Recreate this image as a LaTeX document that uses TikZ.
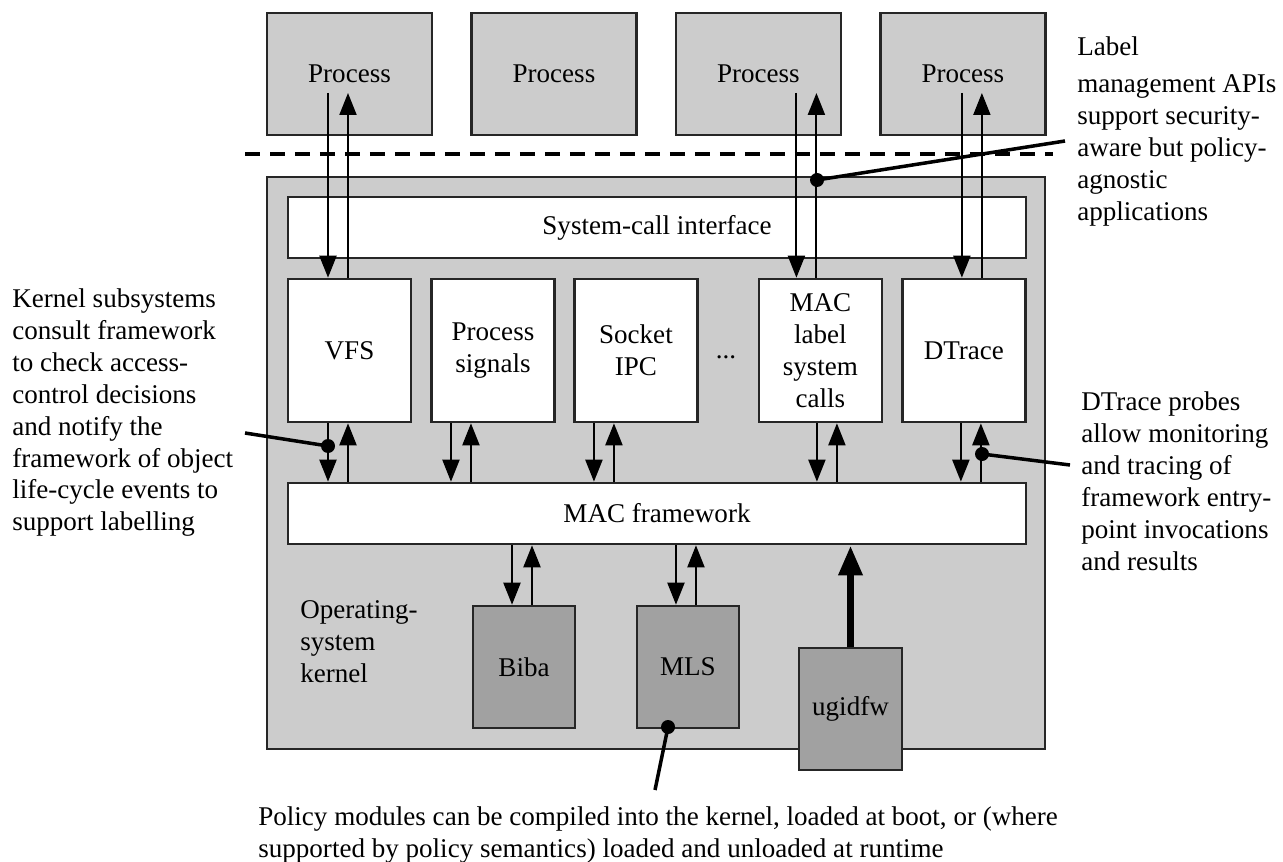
\documentclass[tikz,border=0pt]{standalone}
\usepackage{fontspec}
\setmainfont{Liberation Serif}
\usetikzlibrary{arrows.meta,positioning,calc}
\definecolor{lgray}{gray}{0.8}
\definecolor{dgray}{gray}{0.63}

\begin{document}
\begin{tikzpicture}[x=0.02cm,y=-0.02cm,font=\fontsize{15.4}{18.2}\selectfont]
  \tikzset{box/.style={draw=black!85,line width=1.5pt,fill=white,align=center,inner sep=0pt},
    proc/.style={box,fill=lgray,minimum width=3.3cm,minimum height=2.44cm},
    subsys/.style={box,minimum width=2.46cm,minimum height=2.86cm},
    wide/.style={box,minimum width=14.76cm,minimum height=1.22cm},
    policy/.style={box,fill=dgray,minimum width=2.04cm,minimum height=2.44cm},
    sarr/.style={line width=1.2pt,-{Triangle[length=0.44cm,width=0.34cm]}},
    bigarr/.style={line width=4.5pt,-{Triangle[length=0.6cm,width=0.45cm]}},
    pin/.style={line width=2pt},
    note/.style={align=left,inner sep=0pt,anchor=north west}}
  \useasboundingbox (0,0) rectangle (1283,861);
  \node[proc] (p1) at (349.5,74) {Process};
  \node[proc,on grid] (p2) [right=4.09cm of p1] {Process};
  \node[proc,on grid] (p3) [right=4.09cm of p2] {Process};
  \node[proc,on grid] (p4) [right=4.09cm of p3] {Process};
  \draw[line width=2.3pt,dash pattern=on 0.3cm off 0.2cm] (245,154) -- (1053,154);
  \node[box,fill=lgray,minimum width=15.56cm,minimum height=11.44cm] (kernel) at (656,463) {};
  \node[wide] (sci) at (657,227.5) {System-call interface};
  \node[subsys] (vfs) at (349.5,350.5) {VFS};
  \node[subsys,on grid] (psig) [right=2.87cm of vfs] {Process\\signals};
  \node[subsys,on grid] (sock) [right=2.86cm of psig] {Socket\\IPC};
  \node[subsys,on grid] (mlab) [right=3.69cm of sock] {MAC\\label\\system\\calls};
  \node[subsys,on grid] (dtr) [right=2.87cm of mlab] {DTrace};
  \node (dots) at (726,357) {...};
  \node[wide] (macfw) at (657,513.5) {MAC framework};
  \node[policy] (biba) at (524,667) {Biba};
  \node[policy,on grid] (mls) [right=3.28cm of biba] {MLS};
  \node[policy,minimum width=2.06cm] (ugid) at (850.5,709) {ugidfw};
  \node[note] (ostext) at (300,600) {Operating-\\system\\kernel};
  \foreach \p/\s/\dx in {p1/vfs/-21.5,p3/mlab/38,p4/dtr/-1}{
    \coordinate (d) at ($(\p.center)+(\dx,19)$);
    \coordinate (u) at ($(d)+(20,0)$);
    \draw[sarr] (d) -- (d |- \s.north);
    \draw[sarr] (u |- \s.north) -- (u);
  }
  \foreach \s/\dx in {vfs/-21.5,psig/-42,sock/-42,mlab/-3.5,dtr/-3}{
    \coordinate (d) at ($(\s.south)+(\dx,0)$);
    \coordinate (u) at ($(d)+(20,0)$);
    \draw[sarr] (d) -- (d |- macfw.north);
    \draw[sarr] (u |- macfw.north) -- (u);
  }
  \foreach \m in {biba,mls}{
    \coordinate (d) at ($(\m.north)+(-12,0)$);
    \coordinate (u) at ($(d)+(20,0)$);
    \draw[sarr] (d |- macfw.south) -- (d);
    \draw[sarr] (u) -- (u |- macfw.south);
  }
  \draw[bigarr] (ugid.north) -- (ugid.north |- macfw.south);
  \node[note] (lmtext) at (1077,36) {Label\\[0.1cm]management APIs\\support security-\\aware but policy-\\agnostic\\applications};
  \node[note] (kstext) at (12,288) {Kernel subsystems\\consult framework\\to check access-\\control decisions\\and notify the\\framework of object\\life-cycle events to\\support labelling};
  \node[note] (dttext) at (1081,391) {DTrace probes\\allow monitoring\\and tracing of\\framework entry-\\point invocations\\and results};
  \node[note] (pmtext) at (258,806) {Policy modules can be compiled into the kernel, loaded at boot, or (where\\supported by policy semantics) loaded and unloaded at runtime};
  \coordinate (lmdot) at (817,180);
  \coordinate (lmend) at (1065,141);
  \coordinate (ksdot) at (328,446);
  \coordinate (ksend) at (245,433);
  \coordinate (dtdot) at (982,454);
  \coordinate (dtend) at (1070,465);
  \coordinate (pmdot) at (668,727);
  \coordinate (pmend) at (655,790);
  \foreach \a in {lm,ks,dt,pm}{
    \draw[pin] (\a dot) -- (\a end);
    \fill (\a dot) circle[radius=0.14cm];
  }
\end{tikzpicture}
\end{document}
